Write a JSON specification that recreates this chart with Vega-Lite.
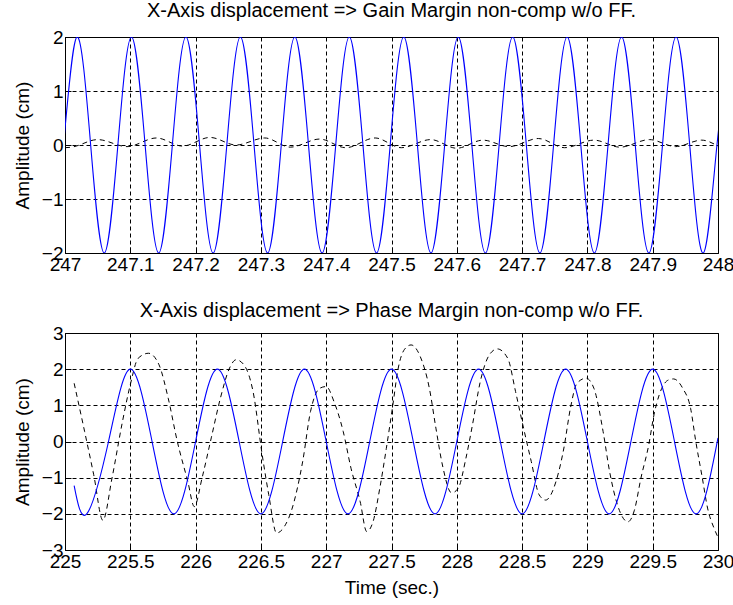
{
  "$schema": "https://vega.github.io/schema/vega-lite/v6.json",
  "background": "white",
  "padding": {"left": 12, "top": 0, "right": 10, "bottom": 5},
  "spacing": 25,
  "datasets": {
    "topBlue": [
      {"t": 246.9767, "v": -2}, {"t": 246.9976, "v": 0},
      {"t": 247.0184, "v": 2}, {"t": 247.0393, "v": 0}, {"t": 247.0601, "v": -2}, {"t": 247.0810, "v": 0},
      {"t": 247.1018, "v": 2}, {"t": 247.1227, "v": 0}, {"t": 247.1435, "v": -2}, {"t": 247.1644, "v": 0},
      {"t": 247.1852, "v": 2}, {"t": 247.2061, "v": 0}, {"t": 247.2269, "v": -2}, {"t": 247.2478, "v": 0},
      {"t": 247.2686, "v": 2}, {"t": 247.2895, "v": 0}, {"t": 247.3103, "v": -2}, {"t": 247.3312, "v": 0},
      {"t": 247.3520, "v": 2}, {"t": 247.3729, "v": 0}, {"t": 247.3937, "v": -2}, {"t": 247.4146, "v": 0},
      {"t": 247.4354, "v": 2}, {"t": 247.4563, "v": 0}, {"t": 247.4771, "v": -2}, {"t": 247.4980, "v": 0},
      {"t": 247.5188, "v": 2}, {"t": 247.5397, "v": 0}, {"t": 247.5605, "v": -2}, {"t": 247.5814, "v": 0},
      {"t": 247.6022, "v": 2}, {"t": 247.6231, "v": 0}, {"t": 247.6439, "v": -2}, {"t": 247.6648, "v": 0},
      {"t": 247.6856, "v": 2}, {"t": 247.7065, "v": 0}, {"t": 247.7273, "v": -2}, {"t": 247.7482, "v": 0},
      {"t": 247.7690, "v": 2}, {"t": 247.7899, "v": 0}, {"t": 247.8107, "v": -2}, {"t": 247.8316, "v": 0},
      {"t": 247.8524, "v": 2}, {"t": 247.8733, "v": 0}, {"t": 247.8941, "v": -2}, {"t": 247.9150, "v": 0},
      {"t": 247.9358, "v": 2}, {"t": 247.9567, "v": 0}, {"t": 247.9775, "v": -2}, {"t": 247.9984, "v": 0},
      {"t": 248.0192, "v": 2}
    ],
    "topBlack": [
      {"t": 247.000, "v": -0.05}, {"t": 247.010, "v": -0.04}, {"t": 247.050, "v": 0.10},
      {"t": 247.095, "v": -0.03}, {"t": 247.140, "v": 0.13}, {"t": 247.180, "v": -0.02},
      {"t": 247.222, "v": 0.14}, {"t": 247.262, "v": 0.0}, {"t": 247.306, "v": 0.13},
      {"t": 247.345, "v": -0.04}, {"t": 247.390, "v": 0.11}, {"t": 247.430, "v": -0.05},
      {"t": 247.475, "v": 0.13}, {"t": 247.515, "v": -0.05}, {"t": 247.560, "v": 0.10},
      {"t": 247.600, "v": -0.06}, {"t": 247.640, "v": 0.09}, {"t": 247.680, "v": -0.03},
      {"t": 247.725, "v": 0.12}, {"t": 247.765, "v": -0.05}, {"t": 247.810, "v": 0.09},
      {"t": 247.850, "v": -0.04}, {"t": 247.895, "v": 0.10}, {"t": 247.935, "v": -0.03},
      {"t": 247.975, "v": 0.09}, {"t": 248.000, "v": -0.02}
    ],
    "botBlue": [
      {"t": 225.07, "v": -1.22}, {"t": 225.1667, "v": -2}, {"t": 225.3333, "v": 0},
      {"t": 225.5, "v": 2}, {"t": 225.6667, "v": 0}, {"t": 225.8333, "v": -2},
      {"t": 226.0, "v": 0}, {"t": 226.1667, "v": 2}, {"t": 226.3333, "v": 0},
      {"t": 226.5, "v": -2}, {"t": 226.6667, "v": 0}, {"t": 226.8333, "v": 2},
      {"t": 227.0, "v": 0}, {"t": 227.1667, "v": -2}, {"t": 227.3333, "v": 0},
      {"t": 227.5, "v": 2}, {"t": 227.6667, "v": 0}, {"t": 227.8333, "v": -2},
      {"t": 228.0, "v": 0}, {"t": 228.1667, "v": 2}, {"t": 228.3333, "v": 0},
      {"t": 228.5, "v": -2}, {"t": 228.6667, "v": 0}, {"t": 228.8333, "v": 2},
      {"t": 229.0, "v": 0}, {"t": 229.1667, "v": -2}, {"t": 229.3333, "v": 0},
      {"t": 229.5, "v": 2}, {"t": 229.6667, "v": 0}, {"t": 229.8333, "v": -2},
      {"t": 230.0, "v": 0.1}
    ],
    "botBlack": [
      {"t": 225.07, "v": 1.61}, {"t": 225.15, "v": 0.28}, {"t": 225.22, "v": -0.92},
      {"t": 225.29, "v": -2.18}, {"t": 225.36, "v": -1.01}, {"t": 225.44, "v": 0.55},
      {"t": 225.50, "v": 1.57}, {"t": 225.56, "v": 2.3}, {"t": 225.64, "v": 2.44},
      {"t": 225.72, "v": 2.12}, {"t": 225.79, "v": 1.2}, {"t": 225.86, "v": 0.0},
      {"t": 225.94, "v": -1.1}, {"t": 225.99, "v": -1.8}, {"t": 226.05, "v": -1.0},
      {"t": 226.12, "v": 0.1}, {"t": 226.19, "v": 1.2}, {"t": 226.26, "v": 2.03},
      {"t": 226.31, "v": 2.26}, {"t": 226.37, "v": 2.12}, {"t": 226.44, "v": 1.38},
      {"t": 226.51, "v": -0.37}, {"t": 226.56, "v": -1.47}, {"t": 226.62, "v": -2.53},
      {"t": 226.68, "v": -2.35}, {"t": 226.74, "v": -1.84}, {"t": 226.82, "v": -0.55},
      {"t": 226.88, "v": 0.83}, {"t": 226.95, "v": 1.47}, {"t": 227.00, "v": 1.52},
      {"t": 227.06, "v": 1.1}, {"t": 227.13, "v": 0.28}, {"t": 227.19, "v": -0.74},
      {"t": 227.26, "v": -1.66}, {"t": 227.31, "v": -2.49}, {"t": 227.36, "v": -2.2},
      {"t": 227.41, "v": -1.3}, {"t": 227.46, "v": -0.2}, {"t": 227.51, "v": 1.0},
      {"t": 227.55, "v": 2.0}, {"t": 227.60, "v": 2.55}, {"t": 227.65, "v": 2.67},
      {"t": 227.72, "v": 2.35}, {"t": 227.79, "v": 1.47}, {"t": 227.84, "v": 0.37},
      {"t": 227.89, "v": -0.65}, {"t": 227.96, "v": -1.42}, {"t": 228.01, "v": -1.3},
      {"t": 228.07, "v": -0.46}, {"t": 228.12, "v": 0.46}, {"t": 228.18, "v": 1.66},
      {"t": 228.25, "v": 2.4}, {"t": 228.31, "v": 2.56}, {"t": 228.39, "v": 2.3},
      {"t": 228.45, "v": 1.38}, {"t": 228.50, "v": 0.55}, {"t": 228.57, "v": -0.55},
      {"t": 228.63, "v": -1.47}, {"t": 228.68, "v": -1.62}, {"t": 228.76, "v": -1.1},
      {"t": 228.82, "v": -0.18}, {"t": 228.87, "v": 0.92}, {"t": 228.92, "v": 1.61},
      {"t": 228.99, "v": 1.75}, {"t": 229.05, "v": 1.47}, {"t": 229.12, "v": 0.28},
      {"t": 229.17, "v": -0.83}, {"t": 229.23, "v": -1.75}, {"t": 229.31, "v": -2.22},
      {"t": 229.36, "v": -1.9}, {"t": 229.41, "v": -1.01}, {"t": 229.47, "v": -0.09},
      {"t": 229.51, "v": 0.74}, {"t": 229.55, "v": 1.29}, {"t": 229.62, "v": 1.7},
      {"t": 229.66, "v": 1.73}, {"t": 229.73, "v": 1.47}, {"t": 229.79, "v": 0.92},
      {"t": 229.83, "v": 0.0}, {"t": 229.88, "v": -1.01}, {"t": 229.92, "v": -1.84},
      {"t": 229.97, "v": -2.4}, {"t": 230.0, "v": -2.65}
    ]
  },
  "vconcat": [
    {
      "width": 653,
      "height": 216,
      "title": {"text": "X-Axis displacement => Gain Margin non-comp w/o FF.", "frame": "group", "offset": 7},
      "layer": [
        {
          "data": {"name": "topBlack"},
          "mark": {"type": "line", "color": "black", "strokeWidth": 1, "strokeDash": [5, 4], "interpolate": "monotone", "clip": true},
          "encoding": {
            "x": {"field": "t", "type": "quantitative", "scale": {"domain": [247, 248], "nice": false, "zero": false},
                  "axis": {"title": null, "values": [247, 247.1, 247.2, 247.3, 247.4, 247.5, 247.6, 247.7, 247.8, 247.9, 248], "tickCount": 30, "format": ".4~f", "labelOverlap": false, "labelFlush": false}},
            "y": {"field": "v", "type": "quantitative", "scale": {"domain": [-2, 2], "nice": false, "zero": false},
                  "axis": {"title": "Amplitude (cm)", "values": [-2, -1, 0, 1, 2], "tickCount": 20, "format": "d", "labelOverlap": false, "labelFlush": false}}
          }
        },
        {
          "data": {"name": "topBlue"},
          "mark": {"type": "line", "color": "#0000ff", "strokeWidth": 1.1, "interpolate": "natural", "clip": true},
          "encoding": {
            "x": {"field": "t", "type": "quantitative"},
            "y": {"field": "v", "type": "quantitative"}
          }
        }
      ]
    },
    {
      "width": 653,
      "height": 217,
      "title": {"text": "X-Axis displacement => Phase Margin non-comp w/o FF.", "frame": "group", "offset": 3},
      "layer": [
        {
          "data": {"name": "botBlack"},
          "mark": {"type": "line", "color": "black", "strokeWidth": 1, "strokeDash": [5, 4], "interpolate": "monotone", "clip": true},
          "encoding": {
            "x": {"field": "t", "type": "quantitative", "scale": {"domain": [225, 230], "nice": false, "zero": false},
                  "axis": {"title": "Time (sec.)", "values": [225, 225.5, 226, 226.5, 227, 227.5, 228, 228.5, 229, 229.5, 230], "tickCount": 30, "format": ".4~f", "labelOverlap": false, "labelFlush": false}},
            "y": {"field": "v", "type": "quantitative", "scale": {"domain": [-3, 3], "nice": false, "zero": false},
                  "axis": {"title": "Amplitude (cm)", "values": [-3, -2, -1, 0, 1, 2, 3], "tickCount": 20, "format": "d", "labelOverlap": false, "labelFlush": false}}
          }
        },
        {
          "data": {"name": "botBlue"},
          "mark": {"type": "line", "color": "#0000ff", "strokeWidth": 1.1, "interpolate": "natural", "clip": true},
          "encoding": {
            "x": {"field": "t", "type": "quantitative"},
            "y": {"field": "v", "type": "quantitative"}
          }
        }
      ]
    }
  ],
  "config": {
    "font": "Liberation Sans",
    "view": {"stroke": "black", "strokeWidth": 1},
    "axis": {
      "domain": false,
      "grid": true,
      "gridColor": "black",
      "gridDash": [4, 3],
      "gridOpacity": 1,
      "gridWidth": 1,
      "ticks": true,
      "tickColor": "black",
      "tickSize": -6,
      "labelFont": "Liberation Sans",
      "labelFontSize": 19,
      "labelColor": "black",
      "labelFlush": false,
      "labelOverlap": false,
      "labelPadding": 8,
      "titleFont": "Liberation Sans",
      "titleFontSize": 19,
      "titleFontWeight": "normal",
      "titleColor": "black"
    },
    "axisY": {"titlePadding": 9},
    "axisX": {"titlePadding": 7},
    "title": {"font": "Liberation Sans", "fontSize": 20, "fontWeight": "normal", "color": "black"}
  }
}
